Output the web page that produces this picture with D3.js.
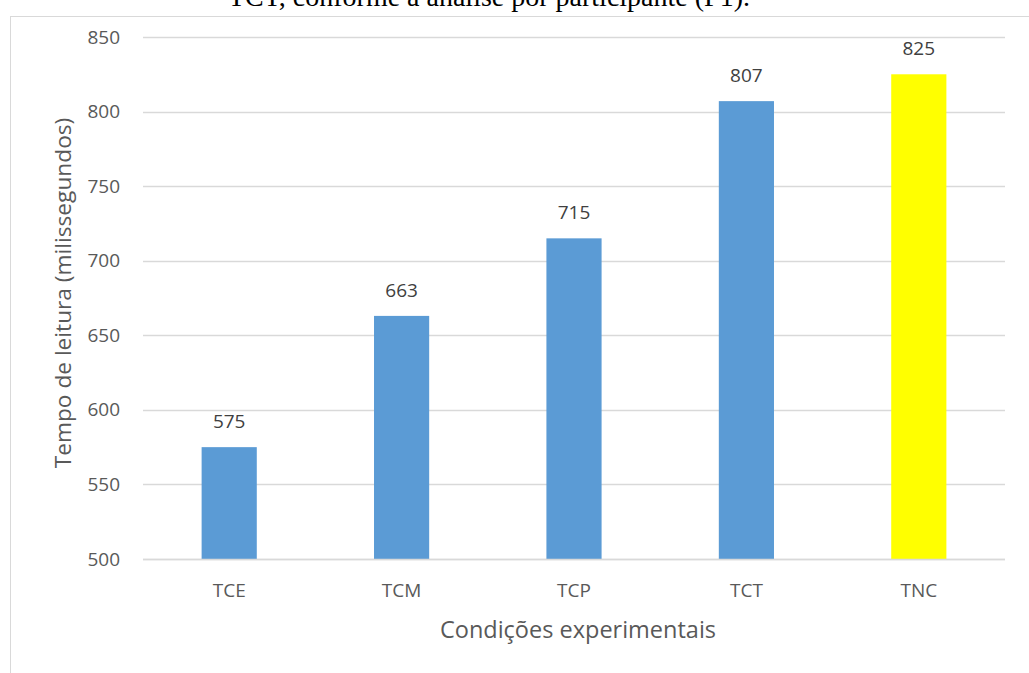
<!DOCTYPE html>
<html>
<head>
<meta charset="utf-8">
<script src="https://cdn.jsdelivr.net/npm/d3@7"></script>
<style>
  body { margin: 0; background: #fff; }
  svg { display: block; }
</style>
</head>
<body>
<div id="chart"></div>
<script>
// dados do grafico
const categories = ["TCE", "TCM", "TCP", "TCT", "TNC"];
const values = [575, 663, 715, 807, 825];
const barColors = ["#5b9bd5", "#5b9bd5", "#5b9bd5", "#5b9bd5", "#ffff00"];
const yTicks = [500, 550, 600, 650, 700, 750, 800, 850];

const W = 1029, H = 673;
const font = "'Open Sans', 'Noto Sans', sans-serif";

const svg = d3.select("#chart").append("svg")
  .attr("width", W)
  .attr("height", H);

// legenda do documento original, cortada no topo
svg.append("text")
  .attr("x", 228)
  .attr("y", 6)
  .attr("font-family", "'Liberation Serif', serif")
  .attr("font-size", 28)
  .attr("fill", "#000")
  .text("TCT, conforme a análise por participante (F1).");

// moldura do grafico
svg.append("rect")
  .attr("x", 10.5)
  .attr("y", 16.5)
  .attr("width", W + 20)
  .attr("height", H + 20)
  .attr("fill", "#fff")
  .attr("stroke", "#d9d9d9")
  .attr("stroke-width", 1);

const plotLeft = 143, plotRight = 1005, plotTop = 37, plotBottom = 559;

const x = d3.scaleBand()
  .domain(categories)
  .range([plotLeft, plotRight])
  .paddingInner(0.68)
  .paddingOuter(0.34);

const y = d3.scaleLinear()
  .domain([500, 850])
  .range([plotBottom, plotTop]);

// linhas de grade
svg.append("g")
  .selectAll("line")
  .data(yTicks)
  .enter()
  .append("line")
  .attr("x1", plotLeft)
  .attr("x2", plotRight)
  .attr("y1", d => Math.round(y(d)) + 0.5)
  .attr("y2", d => Math.round(y(d)) + 0.5)
  .attr("stroke", "#d9d9d9")
  .attr("stroke-width", 1.3);

// eixo y
const yAxis = svg.append("g")
  .attr("transform", "translate(" + plotLeft + ",0)")
  .call(d3.axisLeft(y).tickValues(yTicks).tickSize(0).tickPadding(23));
yAxis.select(".domain").remove();
yAxis.selectAll("text")
  .attr("font-family", font)
  .attr("font-size", 19)
  .attr("fill", "#595959");

// barras
svg.append("g")
  .selectAll("rect")
  .data(values)
  .enter()
  .append("rect")
  .attr("x", (d, i) => x(categories[i]))
  .attr("y", d => y(d))
  .attr("width", x.bandwidth())
  .attr("height", d => y(500) - y(d))
  .attr("fill", (d, i) => barColors[i]);

// rotulos de dados
svg.append("g")
  .selectAll("text")
  .data(values)
  .enter()
  .append("text")
  .attr("x", (d, i) => x(categories[i]) + x.bandwidth() / 2)
  .attr("y", d => y(d) - 19)
  .attr("text-anchor", "middle")
  .attr("font-family", font)
  .attr("font-size", 19)
  .attr("fill", "#404040")
  .text(d => d);

// linha de base
svg.append("line")
  .attr("x1", plotLeft)
  .attr("x2", plotRight)
  .attr("y1", plotBottom + 0.5)
  .attr("y2", plotBottom + 0.5)
  .attr("stroke", "#d9d9d9")
  .attr("stroke-width", 1.3);

// eixo x
const xAxis = svg.append("g")
  .attr("transform", "translate(0," + plotBottom + ")")
  .call(d3.axisBottom(x).tickSize(0).tickPadding(25));
xAxis.select(".domain").remove();
xAxis.selectAll("text")
  .attr("font-family", font)
  .attr("font-size", 19)
  .attr("fill", "#595959");

// titulos dos eixos
svg.append("text")
  .attr("x", 578)
  .attr("y", 638)
  .attr("text-anchor", "middle")
  .attr("font-family", font)
  .attr("font-size", 23.5)
  .attr("fill", "#595959")
  .text("Condições experimentais");

svg.append("text")
  .attr("transform", "translate(71,293) rotate(-90)")
  .attr("text-anchor", "middle")
  .attr("font-family", font)
  .attr("font-size", 22.7)
  .attr("fill", "#595959")
  .text("Tempo de leitura (milissegundos)");
</script>
</body>
</html>
